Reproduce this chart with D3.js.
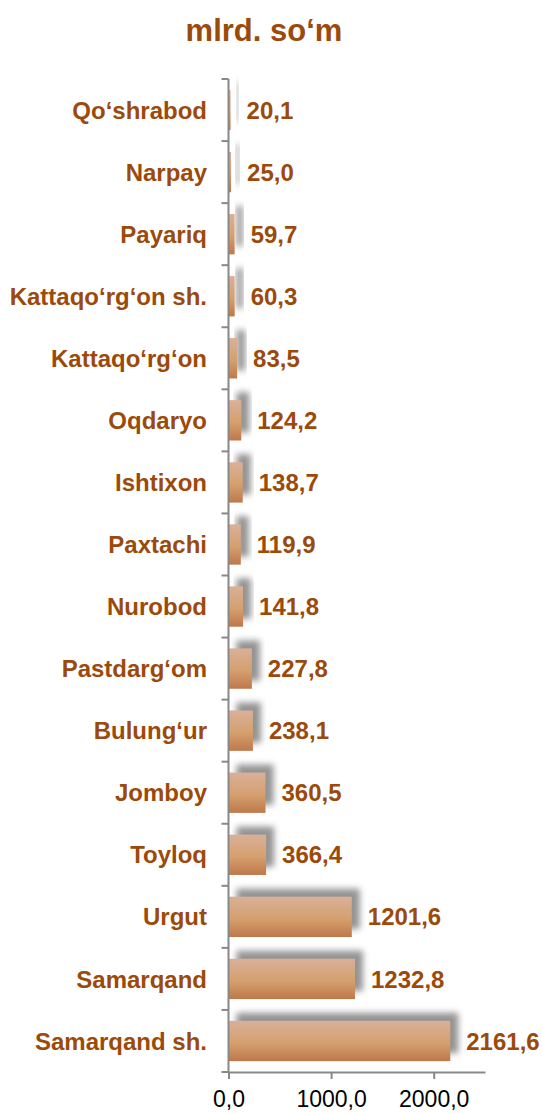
<!DOCTYPE html>
<html>
<head>
<meta charset="utf-8">
<script src="https://cdn.jsdelivr.net/npm/d3@7"></script>
<style>
  body { margin: 0; background: #fff; }
</style>
</head>
<body>
<div class="chart"></div>
<script>
let width = 542
let height = 1113

let districts = ['Qo‘shrabod', 'Narpay', 'Payariq', 'Kattaqo‘rg‘on sh.', 'Kattaqo‘rg‘on', 'Oqdaryo', 'Ishtixon',
    'Paxtachi', 'Nurobod', 'Pastdarg‘om', 'Bulung‘ur', 'Jomboy', 'Toyloq', 'Urgut', 'Samarqand', 'Samarqand sh.']
let values = [20.1, 25.0, 59.7, 60.3, 83.5, 124.2, 138.7, 119.9, 141.8, 227.8, 238.1, 360.5, 366.4, 1201.6, 1232.8, 2161.6]
let ticks = [0, 1000, 2000]

let labelColor = '#9C4A0B'
let font = "'Liberation Sans', Arial, sans-serif"
let fmt = v => d3.format('.1f')(v).replace('.', ',')

let x = d3.scaleLinear()
    .domain([0, 2500])
    .range([228.5, 485])

let y = d3.scaleBand()
    .domain(districts)
    .range([79, 1072])
    .paddingInner(0.35)
    .paddingOuter(0.175)

const svg = d3.create('svg')
    .attr('width', width)
    .attr('height', height)
    .style('font-family', font)

const defs = svg.append('defs')

let grad = defs.append('linearGradient')
    .attr('id', 'barGrad')
    .attr('x1', 0).attr('y1', 0).attr('x2', 0).attr('y2', 1)
grad.append('stop').attr('offset', '0%').attr('stop-color', '#d9b09a')
grad.append('stop').attr('offset', '55%').attr('stop-color', '#d5a06e')
grad.append('stop').attr('offset', '100%').attr('stop-color', '#be784a')

defs.append('filter')
    .attr('id', 'blur')
    .attr('x', '-20%').attr('y', '-50%').attr('width', '140%').attr('height', '200%')
    .append('feGaussianBlur')
    .attr('stdDeviation', 3)

// title
svg.append('text')
    .attr('x', 264)
    .attr('y', 41)
    .attr('text-anchor', 'middle')
    .style('font-size', '31px')
    .attr('font-weight', 'bold')
    .attr('fill', labelColor)
    .text('mlrd. so‘m')

// shadows behind the bars
svg.append('g')
    .selectAll('rect')
    .data(values)
    .join('rect')
    .attr('x', x(0) + 8)
    .attr('y', (d, i) => y(districts[i]) - 8)
    .attr('width', d => Math.max(0, x(d) - x(0)))
    .attr('height', y.bandwidth())
    .attr('fill', '#888')
    .attr('opacity', 0.9)
    .attr('filter', 'url(#blur)')

svg.append('g')
    .selectAll('rect')
    .data(values)
    .join('rect')
    .attr('x', x(0))
    .attr('y', (d, i) => y(districts[i]))
    .attr('width', d => x(d) - x(0))
    .attr('height', y.bandwidth())
    .attr('fill', 'url(#barGrad)')

// value labels
svg.append('g')
    .selectAll('text')
    .data(values)
    .join('text')
    .attr('x', d => x(d) + 16)
    .attr('y', (d, i) => y(districts[i]) + y.bandwidth() / 2)
    .attr('dy', '0.36em')
    .style('font-size', '24px')
    .attr('font-weight', 'bold')
    .attr('fill', labelColor)
    .text(d => fmt(d))

// y axis: line plus ticks on band edges
let yAxis = svg.append('g').attr('stroke', '#888').attr('stroke-width', 2)
yAxis.append('line')
    .attr('x1', x(0)).attr('x2', x(0))
    .attr('y1', 79).attr('y2', 1072)
yAxis.selectAll('.tk')
    .data(d3.range(districts.length + 1))
    .join('line')
    .attr('class', 'tk')
    .attr('x1', x(0) - 7).attr('x2', x(0))
    .attr('y1', i => 79 + i * (1072 - 79) / districts.length)
    .attr('y2', i => 79 + i * (1072 - 79) / districts.length)

svg.append('g')
    .selectAll('text')
    .data(districts)
    .join('text')
    .attr('x', 207)
    .attr('y', d => y(d) + y.bandwidth() / 2)
    .attr('dy', '0.36em')
    .attr('text-anchor', 'end')
    .style('font-size', '24px')
    .attr('font-weight', 'bold')
    .attr('fill', labelColor)
    .text(d => d)

// x axis
let xAxis = svg.append('g')
    .attr('transform', `translate(0,1072)`)
    .call(d3.axisBottom(x).tickValues(ticks).tickSize(7).tickSizeOuter(0).tickFormat(fmt))
xAxis.select('.domain').attr('stroke', '#888').attr('stroke-width', 2)
xAxis.selectAll('.tick line').attr('stroke', '#888').attr('stroke-width', 2)
xAxis.selectAll('.tick text')
    .style('font-size', '23px')
    .style('font-family', font)
    .attr('fill', '#000')
    .attr('y', 13)
    .attr('dy', '0.95em')

d3.select('.chart').node().append(svg.node())
</script>
</body>
</html>
